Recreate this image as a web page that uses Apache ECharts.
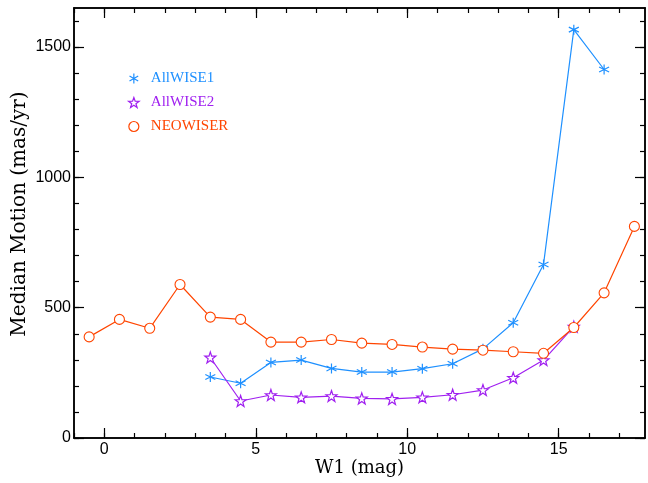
<!DOCTYPE html>
<html>
<head>
<meta charset="utf-8">
<script src="https://cdn.jsdelivr.net/npm/echarts@6/dist/echarts.min.js"></script>
<style>html,body{margin:0;padding:0;background:#fff}#c{width:648px;height:483px}</style>
</head>
<body>
<div id="c"></div>
<script>
// ---- data ----
const xAll1 = [3.5, 4.5, 5.5, 6.5, 7.5, 8.5, 9.5, 10.5, 11.5, 12.5, 13.5, 14.5, 15.5, 16.5];
const yAll1 = [234, 210, 290, 299, 267, 253, 253, 266, 285, 342, 442, 666, 1567, 1414];
const xAll2 = [3.5, 4.5, 5.5, 6.5, 7.5, 8.5, 9.5, 10.5, 11.5, 12.5, 13.5, 14.5, 15.5];
const yAll2 = [309, 142, 165, 156, 161, 152, 150, 156, 166, 184, 231, 299, 427];
const xNeo = [-0.5, 0.5, 1.5, 2.5, 3.5, 4.5, 5.5, 6.5, 7.5, 8.5, 9.5, 10.5, 11.5, 12.5, 13.5, 14.5, 15.5, 16.5, 17.5];
const yNeo = [388, 455, 421, 589, 464, 455, 368, 368, 378, 364, 359, 349, 341, 337, 331, 325, 424, 557, 812];
const seriesNames = ['AllWISE1', 'AllWISE2', 'NEOWISER'];
const xMajor = [0, 5, 10, 15];
const xMinor = [-1, 0, 1, 2, 3, 4, 5, 6, 7, 8, 9, 10, 11, 12, 13, 14, 15, 16, 17];
const yMajor = [0, 500, 1000, 1500];
const yMinor = [0, 100, 200, 300, 400, 500, 600, 700, 800, 900, 1000, 1100, 1200, 1300, 1400, 1500, 1600];

const colors = ['#1E90FF', '#A020F0', '#FF4500'];
const ASTER = 'path://M0,-100L0,100M-87,-50L87,50M-87,50L87,-50';
const STAR = 'path://M0,-100L23.5,-32.4L95.1,-30.9L38,12.4L58.8,80.9L0,40L-58.8,80.9L-38,12.4L-95.1,-30.9L-23.5,-32.4Z';

function pairs(xs, ys) { return xs.map((x, i) => [x, ys[i]]); }

const XMIN = -1, XMAX = 17.85, YMIN = 0, YMAX = 1650;
const tickFont = { fontFamily: 'Liberation Sans', fontSize: 16, color: '#000' };

function xAx(pos, vals, len, labels, extra) {
  return Object.assign({
    type: 'value', position: pos, min: XMIN, max: XMAX,
    axisLine: { show: true, onZero: false, lineStyle: { color: '#000', width: 1.5 } },
    axisTick: { show: true, inside: true, length: len, customValues: vals, lineStyle: { color: '#000', width: 1.2 } },
    axisLabel: labels ? Object.assign({ show: true, customValues: vals, margin: 4, formatter: v => String(v) }, tickFont) : { show: false },
    splitLine: { show: false }
  }, extra || {});
}
function yAx(pos, vals, len, labels, extra) {
  return Object.assign({
    type: 'value', position: pos, min: YMIN, max: YMAX,
    axisLine: { show: true, onZero: false, lineStyle: { color: '#000', width: 1.5 } },
    axisTick: { show: true, inside: true, length: len, customValues: vals, lineStyle: { color: '#000', width: 1.2 } },
    axisLabel: labels ? Object.assign({ show: true, customValues: vals, margin: 3, formatter: v => String(v) }, tickFont) : { show: false },
    splitLine: { show: false }
  }, extra || {});
}

const chart = echarts.init(document.getElementById('c'), null, { renderer: 'canvas' });
chart.setOption({
  animation: false,
  backgroundColor: '#fff',
  grid: { left: 74, right: 3, top: 8, bottom: 45, containLabel: false, outerBoundsMode: 'none' },
  xAxis: [
    xAx('bottom', xMajor, 10, true, {
      name: 'W1 (mag)', nameLocation: 'middle', nameGap: 21, nameMoveOverlap: false,
      nameTextStyle: { fontFamily: 'DejaVu Serif', fontSize: 18, color: '#000' }
    }),
    xAx('bottom', xMinor, 5, false),
    xAx('top', xMajor, 10, false),
    xAx('top', xMinor, 5, false)
  ],
  yAxis: [
    yAx('left', yMajor, 10, true, {
      name: 'Median Motion (mas/yr)', nameLocation: 'middle', nameGap: 44, nameMoveOverlap: false,
      nameTextStyle: { fontFamily: 'DejaVu Serif', fontSize: 20, color: '#000', padding: [0, 0, 0, 18] }
    }),
    yAx('left', yMinor, 5, false),
    yAx('right', yMajor, 10, false),
    yAx('right', yMinor, 5, false)
  ],
  legend: {
    orient: 'vertical', left: 122, top: 66,
    itemWidth: 24, itemHeight: 10, itemGap: 9,
    symbolKeepAspect: true,
    textStyle: { fontFamily: 'Liberation Serif', fontSize: 15 },
    data: [
      { name: seriesNames[0], icon: ASTER, itemStyle: { color: 'none', borderColor: colors[0], borderWidth: 1.2 }, textStyle: { color: colors[0] } },
      { name: seriesNames[1], icon: STAR, itemStyle: { color: '#fff', borderColor: colors[1], borderWidth: 1.2 }, textStyle: { color: colors[1] } },
      { name: seriesNames[2], icon: 'circle', itemStyle: { color: '#fff', borderColor: colors[2], borderWidth: 1.2 }, textStyle: { color: colors[2] } }
    ]
  },
  series: [
    {
      name: seriesNames[0], type: 'line', data: pairs(xAll1, yAll1),
      symbol: ASTER, symbolSize: 10,
      itemStyle: { color: 'none', borderColor: colors[0], borderWidth: 1.2 },
      lineStyle: { color: colors[0], width: 1.2 }
    },
    {
      name: seriesNames[1], type: 'line', data: pairs(xAll2, yAll2),
      symbol: STAR, symbolSize: 11,
      itemStyle: { color: '#fff', borderColor: colors[1], borderWidth: 1.2 },
      lineStyle: { color: colors[1], width: 1.2 }
    },
    {
      name: seriesNames[2], type: 'line', data: pairs(xNeo, yNeo),
      symbol: 'circle', symbolSize: 10,
      itemStyle: { color: '#fff', borderColor: colors[2], borderWidth: 1.1 },
      lineStyle: { color: colors[2], width: 1.2 }
    }
  ]
});
</script>
</body>
</html>
